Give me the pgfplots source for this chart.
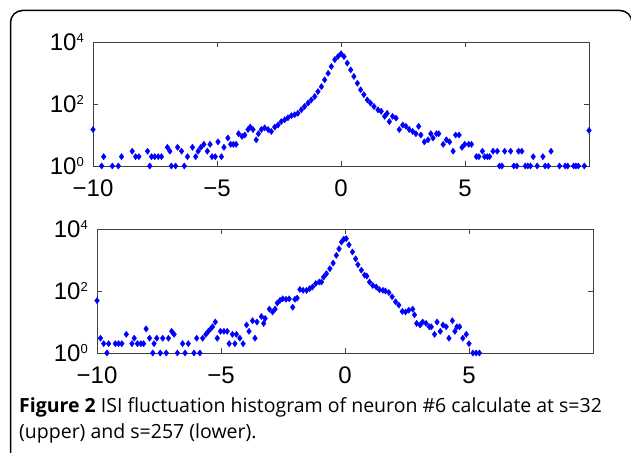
\documentclass[border=0pt]{standalone}
\usepackage{fontspec}
\setmainfont{Liberation Sans}
\newfontfamily\capfont{Open Sans}
\usepackage{pgfplots}
\pgfplotsset{compat=1.18}
\newcommand{\tf}{\fontsize{24bp}{28bp}\selectfont}
\newcommand{\sfx}[1]{10\raisebox{8.5bp}{\fontsize{13bp}{13bp}\selectfont #1}}
\pgfplotsset{isistyle/.style={
  scale only axis, width=496bp, height=124bp,
  xtick={-10,-5,0,5}, xticklabels={−10,−5,0,5},
  ytick={1,100,10000}, yticklabels={\sfx{0},\sfx{2},\sfx{4}},
  yminorticks=false,
  tick align=inside, major tick length=5bp,
  axis line style={draw=black!75, line width=0.9bp},
  major tick style={draw=black!75, line width=0.9bp},
  tick label style={font=\tf, inner sep=0pt},
  xticklabel style={anchor=north, yshift=-14bp},
  yticklabel style={anchor=east, xshift=-9bp},
  clip=false,
}}
\begin{document}
\begin{tikzpicture}[x=1bp,y=1bp]
\useasboundingbox (0,0) rectangle (631,453);
\clip (0,0) rectangle (631,453);
\draw[line width=1.5bp, rounded corners=12bp] (10.5,-5) -- (10.5,442.5) -- (632,442.5) -- (632,-5);
\begin{axis}[ymode=log, xmin=-10, xmax=10, ymin=1, ymax=10000, isistyle, at={(93bp,287bp)}, anchor=south west]
\addplot[only marks, mark=diamond*, mark size=3.1bp, mark options={fill=blue, draw=blue, line width=0.4bp}] coordinates {
(-10,15) (-9.65,1) (-9.57,2) (-9.22,1) (-8.98,1) (-8.85,2) (-8.42,3) (-8.28,2) (-8.15,2)
(-7.80,3) (-7.71,1) (-7.64,2) (-7.51,2) (-7.37,2) (-7.24,2) (-7.0,4) (-6.9,3) (-6.84,1)
(-6.67,1) (-6.59,4) (-6.43,3) (-6.32,1) (-6.19,2) (-5.99,4) (-5.86,2) (-5.76,3) (-5.65,4)
(-5.53,5) (-5.39,3) (-5.28,5) (-5.2,2) (-5.07,2) (-4.96,6) (-4.82,2) (-4.72,4) (-4.56,8)
(-4.45,5) (-4.34,5) (-4.23,5) (-4.13,11) (-3.99,9) (-3.88,10) (-3.75,15) (-3.66,18) (-3.55,15)
(-3.42,7) (-3.33,11) (-3.21,15) (-3.08,17) (-2.94,15) (-2.81,13) (-2.67,18) (-2.54,21)
(-2.41,27) (-2.27,31) (-2.14,36) (-2.0,42) (-1.87,45) (-1.74,50) (-1.6,65) (-1.47,83)
(-1.33,107) (-1.2,135) (-1.06,174) (-0.93,251) (-0.79,363) (-0.66,603) (-0.52,977)
(-0.39,1622) (-0.25,2692) (-0.12,3400) (0.0,4169) (0.12,3388) (0.25,2089) (0.39,1259) (0.52,776)
(0.66,468) (0.79,288) (0.92,200) (1.06,135) (1.19,107) (1.33,83) (1.49,65) (1.62,58)
(1.76,40) (1.86,50) (1.95,27) (2.08,40) (2.22,35) (2.35,15) (2.49,21) (2.62,19) (2.75,15)
(2.89,13) (3.02,11) (3.13,19) (3.22,10) (3.36,6) (3.51,7) (3.62,11) (3.71,8) (3.85,11)
(3.94,11) (4.12,5) (4.25,7) (4.38,6) (4.52,3) (4.62,10) (4.76,10) (4.88,4) (4.99,5)
(5.15,5) (5.26,5) (5.46,2) (5.56,2) (5.70,3) (5.79,2) (5.90,2) (5.99,2) (6.13,3) (6.30,3)
(6.39,1) (6.49,1) (6.60,3) (6.84,3) (6.97,1) (7.09,1) (7.16,3) (7.29,3) (7.43,1) (7.53,1)
(7.64,1) (7.75,2) (7.91,1) (8.14,2) (8.23,1) (8.36,1) (8.47,3) (8.81,1) (9.04,1) (9.14,1)
(9.38,1) (9.47,1) (9.57,1) (9.81,1) (10,14)
};
\end{axis}
\begin{axis}[ymode=log, xmin=-10, xmax=10, ymin=1, ymax=10000, isistyle, at={(97bp,100bp)}, anchor=south west]
\addplot[only marks, mark=diamond*, mark size=3.1bp, mark options={fill=blue, draw=blue, line width=0.4bp}] coordinates {
(-10,49) (-9.86,3) (-9.73,2) (-9.6,1) (-9.53,2) (-9.26,2) (-9.13,2) (-9.0,2) (-8.82,4)
(-8.59,2) (-8.5,3) (-8.37,2) (-8.23,2) (-8.12,2) (-8.02,6) (-7.88,3) (-7.75,1) (-7.7,2)
(-7.59,3) (-7.45,1) (-7.35,3) (-7.21,1) (-7.12,3) (-6.99,5) (-6.89,4) (-6.76,1) (-6.55,2)
(-6.45,1) (-6.32,2) (-6.09,1) (-5.98,3) (-5.85,1) (-5.74,3) (-5.61,4) (-5.51,5) (-5.42,6)
(-5.34,7) (-5.23,10) (-5.15,3) (-5.02,5) (-4.88,5) (-4.75,5) (-4.67,2) (-4.54,4) (-4.44,2)
(-4.38,4) (-4.24,3) (-4.11,2) (-3.97,8) (-3.87,5) (-3.73,11) (-3.63,3) (-3.55,10) (-3.37,15)
(-3.28,9) (-3.22,13) (-3.05,26) (-2.92,21) (-2.82,26) (-2.73,41) (-2.62,50) (-2.51,56)
(-2.38,54) (-2.25,56) (-2.11,30) (-2.02,54) (-1.93,59) (-1.82,112) (-1.69,105) (-1.55,105)
(-1.42,120) (-1.31,135) (-1.18,174) (-1.04,195) (-0.95,195) (-0.86,282) (-0.75,363)
(-0.61,525) (-0.48,794) (-0.35,1413) (-0.24,2291) (-0.14,3802) (-0.05,4677) (0.05,4898)
(0.16,3090) (0.30,1820) (0.43,1096) (0.52,708) (0.66,468) (0.79,324) (0.88,302) (0.99,195)
(1.12,151) (1.26,135) (1.39,110) (1.53,105) (1.63,100) (1.77,89) (1.90,65) (2.04,45)
(2.17,35) (2.31,22) (2.44,21) (2.57,24) (2.73,26) (2.80,17) (2.89,9) (3.03,8) (3.13,10)
(3.27,9) (3.40,7) (3.48,7) (3.61,4) (3.71,10) (3.84,5) (3.95,8) (4.08,7) (4.19,3) (4.33,11)
(4.43,5) (4.51,7) (4.62,7) (4.75,3) (4.89,4) (5.0,2) (5.16,1) (5.29,1) (5.42,1)
};
\end{axis}
\node[anchor=base west, inner sep=0pt] at (19,40) {\capfont\fontsize{19.5bp}{26bp}\selectfont\textbf{Figure 2} ISI fluctuation histogram of neuron \#6 calculate at s=32};
\node[anchor=base west, inner sep=0pt] at (19,14) {\capfont\fontsize{19.5bp}{26bp}\selectfont (upper) and s=257 (lower).};
\end{tikzpicture}
\end{document}
